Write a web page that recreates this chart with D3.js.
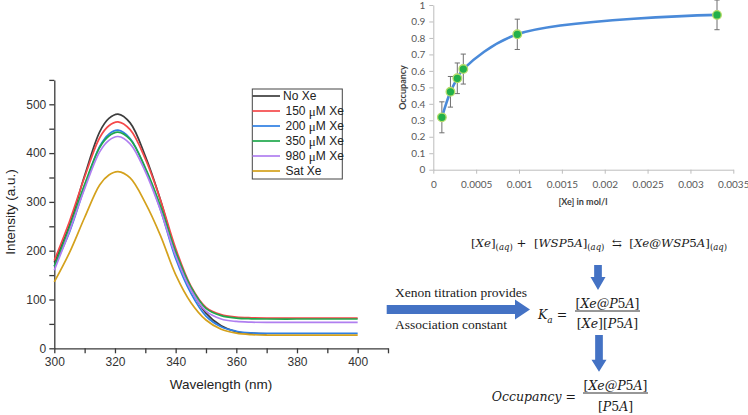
<!DOCTYPE html>
<html><head><meta charset="utf-8">
<script src="https://cdn.jsdelivr.net/npm/d3@7"></script>
<style>body{margin:0;background:#fff}svg{display:block} text{white-space:pre}</style>
</head><body><svg id="c" width="748" height="415"></svg>
<script>
// ---------- Left chart data: fluorescence spectra ----------
const wavelengths = [300,305,310,315,318,321,325,330,335,340,345,350,355,360,365,370,380,390,400];
const seriesNames = ["No Xe","150 μM Xe","200 μM Xe","350 μM Xe","980 μM Xe","Sat Xe"];
const noXe   = [176,252,354,444,471,480,462,394,304,196,122,72,46,34,31,29.5,null,null,null];
const xe150  = [180,260,351,432,456,464,448,388,304,205,128,84,69,64,62.5,62,62,62,62];
const xe200  = [168,238,330,414,439,447,430,368,284,184,113,66,44,35,31.5,30.5,30.5,30.5,30.5];
const xe350  = [168,248,336,412,435,443,428,370,292,198,126,82,67,62,60.5,60,60,60,60];
const xe980  = [160,240,327,403,426,434,419,362,283,190,120,76,60,55,53.5,53,53,53,53];
const satXe  = [136,196,268,335,355,362,349,298,231,151,94,58,39,31,28,27,27,27,27];
const seriesColors = ["#3d3d3d","#f5484a","#2f7fe3","#1fa84c","#b07ff0","#d4a11c"];
const xTicksL = [300,320,340,360,380,400];
const yTicksL = [0,100,200,300,400,500];

// ---------- Right chart data: occupancy titration ----------
const xeConc    = [0.0001,0.0002,0.00028,0.00035,0.00098,0.00331];
const occupancy = [0.318,0.473,0.555,0.611,0.822,0.94];
const occError  = [0.094,0.093,0.093,0.091,0.092,0.09];
const xTicksR = [0,0.0005,0.001,0.0015,0.002,0.0025,0.003,0.0035];
const yTicksR = [0,0.1,0.2,0.3,0.4,0.5,0.6,0.7,0.8,0.9,1];

const svg = d3.select('#c');
const sans = 'Liberation Sans, Arial, sans-serif';

// ================= LEFT CHART =================
const xL = d3.scaleLinear().domain([300,410]).range([54.3,388.0]);
const yL = d3.scaleLinear().domain([0,550]).range([348.3,79.9]);

const gxL = svg.append('g').attr('transform','translate(0,348.3)')
  .call(d3.axisBottom(xL).tickValues(d3.range(300,411,10)).tickSize(5).tickSizeOuter(0).tickPadding(4)
    .tickFormat(d => xTicksL.includes(d) ? d : ''));
const gyL = svg.append('g').attr('transform','translate(54.3,0)')
  .call(d3.axisLeft(yL).tickValues(d3.range(0,551,50)).tickSize(5).tickSizeOuter(0).tickPadding(3)
    .tickFormat(d => yTicksL.includes(d) ? d : ''));
[gxL,gyL].forEach(g=>{
  g.selectAll('path,line').attr('stroke','#3a3a3a').attr('stroke-width',1.3);
  g.selectAll('text').attr('font-family',sans).attr('font-size',12).attr('fill','#333');
});

svg.append('text').attr('x',221).attr('y',384).attr('text-anchor','middle').attr('dominant-baseline','central')
  .attr('font-family',sans).attr('font-size',13.5).attr('fill','#222').text('Wavelength (nm)');
svg.append('text').attr('transform','translate(10,212) rotate(-90)').attr('text-anchor','middle').attr('dominant-baseline','central')
  .attr('font-family',sans).attr('font-size',13.5).attr('fill','#222').text('Intensity (a.u.)');

const allSeries = [noXe,xe150,xe200,xe350,xe980,satXe];
const lineL = d3.line().defined(d=>d[1]!=null).x(d=>xL(d[0])).y(d=>yL(d[1])).curve(d3.curveCatmullRom.alpha(0.5));
allSeries.forEach((s,i)=>{
  svg.append('path').datum(wavelengths.map((w,j)=>[w,s[j]]))
    .attr('d',lineL).attr('fill','none').attr('stroke',seriesColors[i]).attr('stroke-width',1.7);
});

// legend
const lg = svg.append('g');
lg.append('rect').attr('x',252.3).attr('y',89).attr('width',90).attr('height',90)
  .attr('fill','#fff').attr('stroke','#444').attr('stroke-width',1);
seriesNames.forEach((n,i)=>{
  const yy = 96 + i*15;
  lg.append('line').attr('x1',252.5).attr('x2',280).attr('y1',yy).attr('y2',yy)
    .attr('stroke',seriesColors[i]).attr('stroke-width',1.7);
  const t = lg.append('text').attr('x', i===0?283:285.5).attr('y',yy).attr('dominant-baseline','central')
    .attr('font-family',sans).attr('font-size',12).attr('fill','#222');
  const k = n.indexOf('μ');
  if(k<0){ t.text(n); }
  else {
    t.append('tspan').text(n.slice(0,k));
    t.append('tspan').attr('font-family','Liberation Serif, serif').attr('font-size',13).text('μ');
    t.append('tspan').text(n.slice(k+1));
  }
});

// ================= RIGHT CHART =================
const xR = d3.scaleLinear().domain([0,0.0035]).range([433.3,733.3]);
const yR = d3.scaleLinear().domain([0,1]).range([169.7,5]);
const lato = 'Lato, Open Sans, sans-serif';

const gxR = svg.append('g').attr('transform','translate(0,169.7)')
  .call(d3.axisBottom(xR).tickValues(xTicksR).tickSize(4).tickSizeOuter(0).tickPadding(7)
    .tickFormat(d=> d===0 ? '0' : String(+d.toFixed(4))));
const gyR = svg.append('g').attr('transform','translate(433.3,0)')
  .call(d3.axisLeft(yR).tickValues(yTicksR).tickSize(4).tickSizeOuter(0).tickPadding(4)
    .tickFormat(d=> d===0 ? '0' : (d===1 ? '1' : d3.format('.1f')(d))));
[gxR,gyR].forEach(g=>{
  g.selectAll('path,line').attr('stroke','#bdbdbd').attr('stroke-width',1);
  g.selectAll('text').attr('font-family',lato).attr('font-size',10).attr('fill','#595959');
});
svg.append('text').attr('x',583).attr('y',201).attr('text-anchor','middle').attr('dominant-baseline','central')
  .attr('font-family',lato).attr('font-weight','bold').attr('font-size',9).attr('fill','#404040').text('[Xe] in mol/l');
svg.append('text').attr('transform','translate(402,87.5) rotate(-90)').attr('text-anchor','middle').attr('dominant-baseline','central')
  .attr('font-family',lato).attr('font-weight','bold').attr('font-size',9).attr('fill','#404040').text('Occupancy');

const pts = xeConc.map((x,i)=>({x, y:occupancy[i], e:occError[i]}));
// error bars
pts.forEach(p=>{
  const cx = xR(p.x);
  svg.append('line').attr('x1',cx).attr('x2',cx).attr('y1',yR(p.y+p.e)).attr('y2',yR(p.y-p.e))
    .attr('stroke','#6f6f6f').attr('stroke-width',1);
  [p.y+p.e,p.y-p.e].forEach(v=>{
    svg.append('line').attr('x1',cx-2.6).attr('x2',cx+2.6).attr('y1',yR(v)).attr('y2',yR(v))
      .attr('stroke','#6f6f6f').attr('stroke-width',1);
  });
});
svg.append('path').datum(pts)
  .attr('d', d3.line().x(d=>xR(d.x)).y(d=>yR(d.y)).curve(d3.curveCatmullRom.alpha(0.5)))
  .attr('fill','none').attr('stroke','#4a8ad9').attr('stroke-width',2.6);
svg.selectAll('circle.m').data(pts).enter().append('circle').attr('class','m')
  .attr('cx',d=>xR(d.x)).attr('cy',d=>yR(d.y)).attr('r',4.3)
  .attr('fill','#22b04a').attr('stroke','#b5dc6a').attr('stroke-width',1.3);

// ================= EQUATIONS & ARROWS =================
const serif = 'DejaVu Serif, Liberation Serif, serif';
function mathText(x, y, parts, size, anchor){
  const t = svg.append('text').attr('x',x).attr('y',y).attr('font-family',serif)
    .attr('font-size',size).attr('text-anchor',anchor||'start').attr('fill','#1a1a1a');
  let sub=false;
  parts.forEach(([s,k])=>{
    const isSub = k[0]==='s';
    const ts = t.append('tspan').text(s).attr('font-style', k[k.length-1]==='i' ? 'italic':'normal');
    if(isSub) ts.attr('font-size', size*0.72);
    if(isSub!==sub){ ts.attr('dy', isSub ? size*0.32 : -size*0.32); sub=isSub; }
  });
  return t;
}
const aq = [['(','sn'],['aq','si'],[')','sn']];
mathText(471,246.5,[
  ['[','n'],['Xe','i'],[']','n'],...aq,['\u00A0+\u00A0\u00A0','n'],
  ['[','n'],['WSP','i'],['5','n'],['A','i'],[']','n'],...aq,['\u00A0\u00A0⇆\u00A0\u00A0','n'],
  ['[','n'],['Xe@WSP','i'],['5','n'],['A','i'],[']','n'],...aq
],11.8);

const blue = '#4472c4';
function downArrow(cx, y0, y1, headLen, bodyW, headW){
  svg.append('path').attr('fill',blue).attr('d',
    `M${cx-bodyW/2},${y0} L${cx+bodyW/2},${y0} L${cx+bodyW/2},${y1-headLen} L${cx+headW/2},${y1-headLen}
     L${cx},${y1} L${cx-headW/2},${y1-headLen} L${cx-bodyW/2},${y1-headLen} Z`);
}
downArrow(598,265,290,13,7.7,15);
downArrow(599,335,371.7,12,7.7,15);
// horizontal arrow
svg.append('path').attr('fill',blue).attr('d',
  'M386.7,305 L515,305 L515,299.5 L530,309.5 L515,319.5 L515,314 L386.7,314 Z');

svg.append('text').attr('x',395).attr('y',297).attr('font-family','Liberation Serif, Times New Roman, serif')
  .attr('font-size',13.5).attr('fill','#1a1a1a').text('Xenon titration provides');
svg.append('text').attr('x',395).attr('y',329).attr('font-family','Liberation Serif, Times New Roman, serif')
  .attr('font-size',13.5).attr('fill','#1a1a1a').text('Association constant');

// Ka
mathText(538,318.5,[['K','i'],['a','si'],[' = ','n']],12.5);
mathText(607.5,307.5,[['[','n'],['Xe@P','i'],['5','n'],['A','i'],[']','n']],12.5,'middle');
svg.append('line').attr('x1',575).attr('x2',640).attr('y1',311).attr('y2',311).attr('stroke','#1a1a1a').attr('stroke-width',0.9);
mathText(607.5,328,[['[','n'],['Xe','i'],[']','n'],['[','n'],['P','i'],['5','n'],['A','i'],[']','n']],12.5,'middle');

// Occupancy
mathText(491.7,401,[['Occupancy','i'],[' = ','n']],12.5);
mathText(615.5,389.5,[['[','n'],['Xe@P','i'],['5','n'],['A','i'],[']','n']],12.5,'middle');
svg.append('line').attr('x1',583).attr('x2',648).attr('y1',393).attr('y2',393).attr('stroke','#1a1a1a').attr('stroke-width',0.9);
mathText(615.5,411,[['[','n'],['P','i'],['5','n'],['A','i'],[']','n']],12.5,'middle');
</script></body></html>
